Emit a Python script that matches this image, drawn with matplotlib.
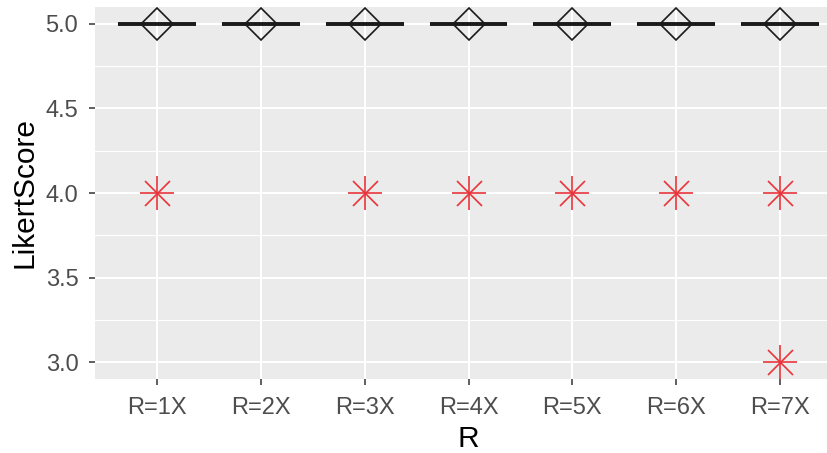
import numpy as np
import matplotlib
matplotlib.use('Agg')
import matplotlib.pyplot as plt

plt.rcParams['font.family'] = ['Liberation Sans', 'DejaVu Sans']

# data
categories = ['R=1X', 'R=2X', 'R=3X', 'R=4X', 'R=5X', 'R=6X', 'R=7X']
medians = [5.0, 5.0, 5.0, 5.0, 5.0, 5.0, 5.0]
means = [5.0, 5.0, 5.0, 5.0, 5.0, 5.0, 5.0]
outlier_group = ['R=1X', 'R=3X', 'R=4X', 'R=5X', 'R=6X', 'R=7X', 'R=7X']
outlier_score = [4.0, 4.0, 4.0, 4.0, 4.0, 4.0, 3.0]

x = np.arange(1, len(categories) + 1)
ox = [categories.index(g) + 1 for g in outlier_group]

fig = plt.figure(figsize=(8.28, 4.53), dpi=100)
# panel runs a bit past the right edge like the original crop
ax = fig.add_axes([95 / 828, 74 / 453, 747 / 828, 372 / 453])
ax.set_facecolor('#EBEBEB')

ax.set_xlim(0.4, len(categories) + 0.6)
ax.set_ylim(2.9, 5.1)

# grid, ggplot style
for y in [3.25, 3.75, 4.25, 4.75]:
    ax.axhline(y, color='white', lw=0.8, zorder=0)
for y in [3.0, 3.5, 4.0, 4.5, 5.0]:
    ax.axhline(y, color='white', lw=1.5, zorder=0)
for xi in x:
    ax.axvline(xi, color='white', lw=1.5, zorder=0)

# collapsed boxes -> just the median line
ax.hlines(medians, x - 0.375, x + 0.375, color='#1A1A1A', lw=2.8, zorder=2)

# outliers as red asterisks (plus + cross)
ax.plot(ox, outlier_score, ls='none', marker='+', ms=25, mew=1.2, color='#E8333A', zorder=3)
ax.plot(ox, outlier_score, ls='none', marker='x', ms=18, mew=1.2, color='#E8333A', zorder=3)

# mean diamonds
ax.plot(x, means, ls='none', marker='D', ms=16, mfc='none', mec='#1A1A1A', mew=1.2, zorder=4)

ax.set_xticks(x)
ax.set_xticklabels(categories)
ax.set_yticks([3.0, 3.5, 4.0, 4.5, 5.0])
ax.set_yticklabels(['3.0', '3.5', '4.0', '4.5', '5.0'])
ax.tick_params(axis='both', length=4, width=1.1, color='#333333', labelcolor='#4D4D4D',
               labelsize=17)
ax.tick_params(axis='x', pad=9)
ax.tick_params(axis='y', pad=8)

for s in ax.spines.values():
    s.set_visible(False)

ax.set_xlabel('R', fontsize=21.5, color='black', labelpad=4)
ax.set_ylabel('LikertScore', fontsize=21.5, color='black', labelpad=5)

fig.savefig('out.png', dpi=100)
